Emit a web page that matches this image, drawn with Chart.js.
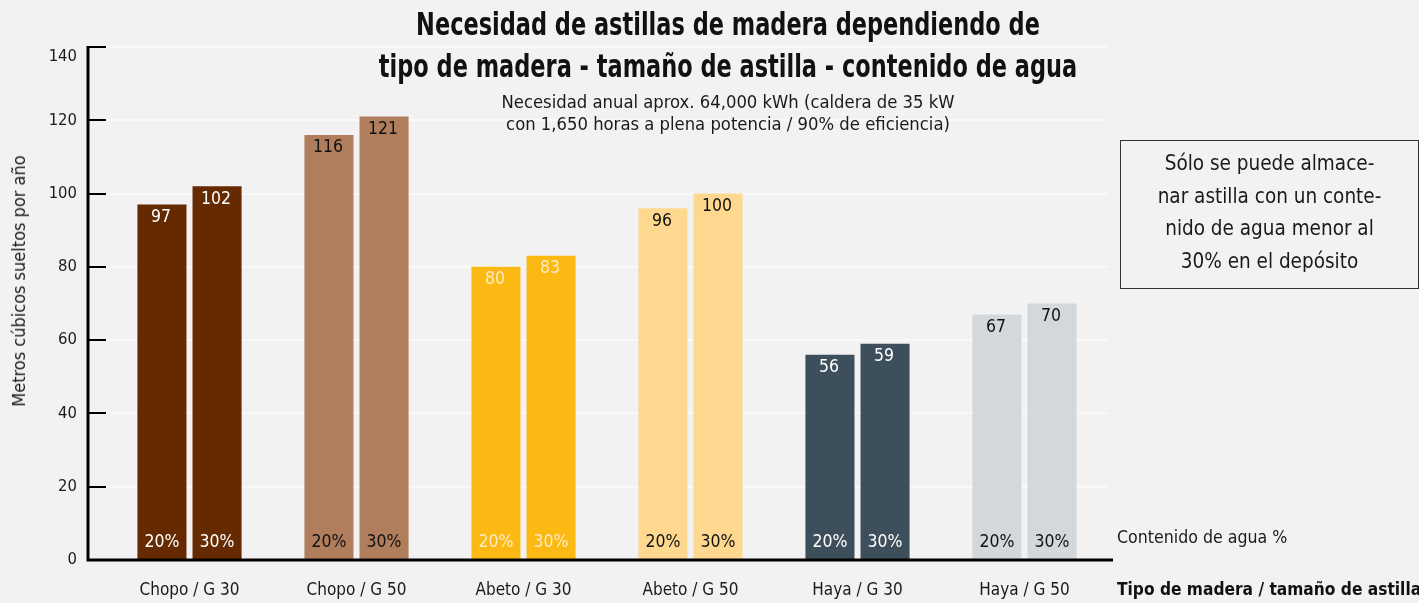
<!DOCTYPE html>
<html>
<head>
<meta charset="utf-8">
<script src="https://cdn.jsdelivr.net/npm/chart.js@4.4.1/dist/chart.umd.min.js"></script>
<style>
  html, body { margin: 0; padding: 0; background: #f2f2f2; overflow: hidden; }
  #wrap { position: relative; width: 1419px; height: 603px; font-family: 'Liberation Sans Narrow', 'DejaVu Sans Condensed', 'Roboto', sans-serif; color: #111; }
  canvas { position: absolute; left: 0; top: 0; }
  .ov { position: absolute; white-space: nowrap; }
  #title { left: 128px; width: 1200px; top: 3px; text-align: center; font-weight: bold; font-size: 32px; line-height: 42px; transform: scaleX(0.78); transform-origin: 600px 0; }
  #sub { left: 128px; width: 1200px; top: 91px; text-align: center; font-size: 18.3px; line-height: 22px; color: #1a1a1a; }
  #note { left: 1120px; top: 140px; width: 299px; height: 149px; border: 1px solid #333; box-sizing: border-box; text-align: center; font-size: 20.5px; line-height: 32.7px; padding-top: 6px; color: #1a1a1a; }
  #agua { left: 1117px; top: 526px; font-size: 17.6px; line-height: 22px; color: #1a1a1a; }
  #tipo { left: 1117px; top: 578px; font-size: 17.2px; line-height: 22px; font-weight: bold; color: #111; }
  #ytitle { left: 19px; top: 281px; font-size: 18px; line-height: 20px; color: #1a1a1a; transform: translate(-50%, -50%) rotate(-90deg); }
</style>
</head>
<body>
<div id="wrap">
  <canvas id="c" width="1419" height="603"></canvas>
  <div class="ov" id="title">Necesidad de astillas de madera dependiendo de<br>tipo de madera - tamaño de astilla - contenido de agua</div>
  <div class="ov" id="sub">Necesidad anual aprox. 64,000 kWh (caldera de 35 kW<br>con 1,650 horas a plena potencia / 90% de eficiencia)</div>
  <div class="ov" id="note">Sólo se puede almace-<br>nar astilla con un conte-<br>nido de agua menor al<br>30% en el depósito</div>
  <div class="ov" id="agua">Contenido de agua %</div>
  <div class="ov" id="tipo">Tipo de madera / tamaño de astilla</div>
  <div class="ov" id="ytitle">Metros cúbicos sueltos por año</div>
</div>
<script>
const categories = ['Chopo / G 30', 'Chopo / G 50', 'Abeto / G 30', 'Abeto / G 50', 'Haya / G 30', 'Haya / G 50'];
const seriesNames = ['20%', '30%'];
const water20 = [97, 116, 80, 96, 56, 67];
const water30 = [102, 121, 83, 100, 59, 70];
const yTicks = [0, 20, 40, 60, 80, 100, 120, 140];
const barColors = ['#652a00', '#b07e5c', '#fdb913', '#fed88e', '#3d4f5a', '#d3d8dc'];
const textColors = ['#ffffff', '#111111', '#fdecc4', '#111111', '#ffffff', '#111111'];

const FONT = "'Liberation Sans Narrow', 'DejaVu Sans Condensed', Roboto, sans-serif";

const labelPlugin = {
  id: 'labels',
  afterDatasetsDraw(chart) {
    const ctx = chart.ctx;
    ctx.save();
    ctx.font = '17.5px ' + FONT;
    ctx.textAlign = 'center';
    ctx.textBaseline = 'middle';
    chart.data.datasets.forEach((ds, di) => {
      const meta = chart.getDatasetMeta(di);
      meta.data.forEach((bar, i) => {
        ctx.fillStyle = textColors[i];
        ctx.fillText(String(ds.data[i]), bar.x - 1, bar.y + 13);
        ctx.fillText(seriesNames[di], bar.x, bar.base - 17);
      });
    });
    const ca = chart.chartArea;
    const ys = chart.scales.y;
    const axX = ca.left - 18;
    ctx.strokeStyle = '#000';
    ctx.lineWidth = 3;
    ctx.beginPath();
    ctx.moveTo(axX, ys.getPixelForValue(140) - 1);
    ctx.lineTo(axX, ca.bottom + 1.5);
    ctx.moveTo(axX - 1.5, ca.bottom);
    ctx.lineTo(ca.right + 5, ca.bottom);
    ctx.stroke();
    ctx.restore();
  }
};

new Chart(document.getElementById('c'), {
  type: 'bar',
  data: {
    labels: categories,
    datasets: [
      { label: seriesNames[0], data: water20, backgroundColor: barColors, barPercentage: 0.89, categoryPercentage: 0.66 },
      { label: seriesNames[1], data: water30, backgroundColor: barColors, barPercentage: 0.89, categoryPercentage: 0.66 }
    ]
  },
  options: {
    responsive: false,
    animation: false,
    layout: { padding: { left: 0, right: 311, top: 47, bottom: 0 } },
    plugins: { legend: { display: false }, tooltip: { enabled: false }, title: { display: false } },
    scales: {
      x: {
        grid: { display: false, drawTicks: false },
        border: { display: false },
        ticks: { color: '#1a1a1a', font: { family: FONT, size: 17 }, padding: 20, maxRotation: 0 },
        afterFit(s) { s.height = 43; }
      },
      y: {
        min: 0, max: 140,
        afterBuildTicks(s) { s.ticks = yTicks.map(v => ({ value: v })); },
        grid: { color: '#f9f9f9', lineWidth: 2, tickColor: '#000', tickLength: 18, tickWidth: 2, drawTicks: true },
        border: { display: false },
        ticks: {
          color: '#1a1a1a', font: { family: FONT, size: 16.5 }, padding: 11,
          callback: (v) => v === 140 ? ['', '140'] : String(v)
        },
        afterFit(s) { s.width = 106; }
      }
    }
  },
  plugins: [labelPlugin]
});
</script>
</body>
</html>
